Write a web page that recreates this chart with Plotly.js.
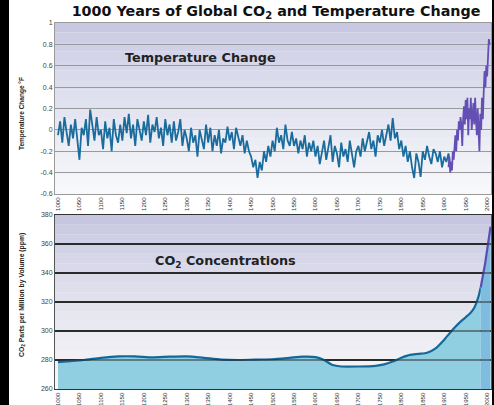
<!DOCTYPE html>
<html>
<head>
<meta charset="utf-8">
<script src="https://cdn.plot.ly/plotly-3.0.1.min.js"></script>
<style>
html,body{margin:0;padding:0;background:#fff;}
#wrap{position:relative;width:494px;height:405px;overflow:hidden;background:#fff;}
#lstrip{position:absolute;left:0;top:0;width:9px;height:405px;background:#000;}
#rstrip{position:absolute;left:492px;top:0;width:2px;height:405px;background:#000;}
#chart{position:absolute;left:9px;top:0;width:483px;height:405px;}
</style>
</head>
<body>
<div id="wrap"><div id="chart"></div><div id="lstrip"></div><div id="rstrip"></div></div>
<script>
// ---------- DATA ----------
const yearTicks = [1000,1050,1100,1150,1200,1250,1300,1350,1400,1450,1500,1550,1600,1650,1700,1750,1800,1850,1900,1950,2000];
const tempTickVals = [1,0.8,0.6,0.4,0.2,0,-0.2,-0.4,-0.6];
const tempTickText = ["1","0.8","0.6","0.4","0.2","0","-0.2","-0.4","-0.6"];
const co2TickVals = [380,360,340,320,300,280,260];

// Reconstructed temperature (blue), every 5 years from 1000
const reconStart = 1000, reconStep = 5;
const reconTemp = [
 -0.05,0.08,-0.12,0.12,-0.02,-0.15,0.05,-0.08,0.10,-0.10,
 -0.28,0.02,-0.05,0.10,-0.15,0.19,0.05,-0.10,0.12,-0.05,
 0.00,-0.18,0.08,-0.08,0.02,-0.20,0.10,-0.05,-0.12,0.05,
 -0.10,0.12,-0.03,0.15,-0.08,0.05,-0.15,0.10,0.00,-0.10,
 0.08,-0.05,0.14,-0.12,0.05,-0.02,0.12,-0.08,0.02,-0.15,
 0.10,-0.05,0.05,-0.12,0.08,-0.10,-0.02,0.10,-0.15,0.00,
 -0.08,-0.20,0.02,-0.12,-0.05,-0.25,0.00,-0.10,-0.18,0.05,
 -0.12,0.02,-0.20,-0.05,-0.15,0.00,-0.22,-0.08,-0.12,0.03,
 -0.10,-0.02,-0.18,0.02,-0.08,-0.15,-0.05,-0.22,-0.10,-0.20,
 -0.25,-0.35,-0.28,-0.45,-0.30,-0.38,-0.20,-0.30,-0.15,-0.25,
 -0.10,-0.20,0.02,-0.12,-0.05,-0.18,0.05,-0.10,-0.15,-0.02,
 -0.15,-0.08,-0.22,-0.10,-0.18,-0.05,-0.25,-0.12,-0.20,-0.10,
 -0.25,-0.15,-0.32,-0.20,-0.10,-0.28,-0.18,-0.05,-0.30,-0.15,
 -0.22,-0.35,-0.12,-0.25,-0.18,-0.30,-0.10,-0.22,-0.35,-0.20,
 -0.15,-0.25,-0.08,-0.20,-0.12,-0.02,-0.18,-0.10,-0.25,-0.05,
 -0.12,0.00,-0.15,-0.05,0.05,-0.10,0.11,-0.08,-0.02,-0.18,
 -0.10,-0.25,-0.15,-0.30,-0.20,-0.35,-0.45,-0.22,-0.30,-0.44,
 -0.20,-0.28,-0.15,-0.25,-0.32,-0.18,-0.22,-0.30,-0.20,-0.35,
 -0.25,-0.30,-0.22,-0.38
];

// Instrumental temperature (purple), every 2 years from 1910
const instrStart = 1910, instrStep = 2;
const instrTemp = [
 -0.35,-0.25,-0.40,-0.30,-0.38,-0.20,-0.28,-0.15,-0.05,-0.20,
 0.00,-0.10,0.08,0.00,0.12,0.05,-0.15,0.10,0.22,0.05,
 0.28,0.10,0.30,-0.05,0.20,0.10,0.30,0.00,0.15,0.25,
 0.05,0.30,0.10,-0.05,0.20,0.05,-0.20,0.15,0.00,0.30,
 0.10,0.35,0.55,0.40,0.60,0.50,0.70,0.85,0.80
];

// CO2 concentration (ppm)
const co2Years = [1000,1020,1060,1100,1140,1180,1220,1260,1300,1340,1380,1420,1460,1500,1540,1570,1600,1620,1640,1660,1700,1740,1760,1780,1800,1820,1840,1860,1880,1900,1920,1940,1960,1970,1980,1985];
const co2Vals  = [278.5,279,280,281.5,282.5,282.5,281.8,282.3,282.5,281.5,280.3,280,280.3,280.5,281.5,282.3,282,280,276.5,275.5,275.5,276,277,279,281.5,283.5,284.2,285,288,294,301,307,312,316,324,330];
const co2RecentYears = [1985,1990,1995,2000,2005,2008];
const co2RecentVals  = [330,337,346,356,366,372];

// ---------- BUILD ----------
function seq(start, step, n){ const a=[]; for(let i=0;i<n;i++) a.push(start+i*step); return a; }
const reconYears = seq(reconStart, reconStep, reconTemp.length);
const instrYears = seq(instrStart, instrStep, instrTemp.length);

const traces = [
  {x: co2Years, y: co2Vals, xaxis:'x2', yaxis:'y2', type:'scatter', mode:'lines',
   fill:'tozeroy', fillcolor:'#8fcfe1', line:{color:'#16679a', width:2.2, shape:'spline', smoothing:0.6}, hoverinfo:'skip'},
  {x: co2RecentYears, y: co2RecentVals, xaxis:'x2', yaxis:'y2', type:'scatter', mode:'lines',
   fill:'tozeroy', fillcolor:'#7fbde0', line:{color:'#5a4db3', width:2.2}, hoverinfo:'skip'},
  {x: reconYears, y: reconTemp, xaxis:'x', yaxis:'y', type:'scatter', mode:'lines',
   line:{color:'#1b6c9c', width:1.8}, hoverinfo:'skip'},
  {x: instrYears, y: instrTemp, xaxis:'x', yaxis:'y', type:'scatter', mode:'lines',
   line:{color:'#6450b4', width:1.8}, hoverinfo:'skip'}
];

// gradient backgrounds (style only)
function lerp(a,b,t){ return Math.round(a+(b-a)*t); }
function grad(xref, yref, top, bottom, n){
  const s=[];
  for(let i=0;i<n;i++){
    const t=Math.pow(i/(n-1),0.8);
    const c='rgb('+lerp(top[0],bottom[0],t)+','+lerp(top[1],bottom[1],t)+','+lerp(top[2],bottom[2],t)+')';
    s.push({type:'rect', xref:xref, yref:yref, x0:0, x1:1, y0:1-(i+1)/n, y1:1-i/n,
            fillcolor:c, line:{width:0}, layer:'below'});
  }
  return s;
}
let shapes = grad('x domain','y domain',[200,200,226],[246,248,250],18)
  .concat(grad('x2 domain','y2 domain',[198,198,225],[248,248,248],18));
// CO2 grid lines drawn over the filled area, at the tick values
co2TickVals.filter(v => v > 260 && v < 380).forEach(v => {
  shapes.push({type:'line', xref:'x2 domain', yref:'y2', x0:0, x1:1, y0:v, y1:v,
               line:{color:'#2a2a2a', width:1.2}, layer:'above'});
});

const tickFont = {family:'Liberation Sans, Arial, sans-serif', size:7, color:'#444'};
const xCommon = {range:[993,2009], tickvals:yearTicks, ticktext:yearTicks.map(String), tickangle:-90,
  tickfont:{family:'Liberation Sans Narrow, Liberation Sans, sans-serif', size:6.1, color:'#333'},
  ticklabelstandoff:0,
  showgrid:false, zeroline:false, showline:true, mirror:true, ticks:'', fixedrange:true};

const layout = {
  width:483, height:405,
  margin:{l:46, r:1, t:23, b:16},
  paper_bgcolor:'#ffffff', plot_bgcolor:'#f2f4f8',
  showlegend:false,
  title:{text:'1000 Years of Global CO<sub>2</sub> and Temperature Change',
         font:{family:'DejaVu Sans, sans-serif', size:14.3, color:'#111', weight:'bold'},
         xref:'paper', x:0.507, xanchor:'center', yref:'container', y:0.972, yanchor:'middle'},
  xaxis: Object.assign({}, xCommon, {domain:[0,1], anchor:'y', linecolor:'#9a9a9a', linewidth:1}),
  yaxis: {domain:[0.5328,1], anchor:'x', range:[-0.6,1], tickvals:tempTickVals, ticktext:tempTickText,
          tickfont:tickFont, showgrid:true, gridcolor:'#9a9a9a', gridwidth:1.2, zeroline:false,
          showline:true, mirror:true, linecolor:'#9a9a9a', linewidth:1, ticks:'', fixedrange:true},
  xaxis2: Object.assign({}, xCommon, {domain:[0,1], anchor:'y2', linecolor:'#333', linewidth:1.2}),
  yaxis2: {domain:[0,0.4754], anchor:'x2', range:[260,380], tickvals:co2TickVals, ticktext:co2TickVals.map(String),
          tickfont:tickFont, showgrid:true, gridcolor:'#2a2a2a', gridwidth:1.2, zeroline:false,
          showline:true, mirror:true, linecolor:'#555', linewidth:1, ticks:'', fixedrange:true},
  shapes: shapes,
  annotations:[
    {text:'<b>Temperature Change</b>', xref:'x', yref:'y', x:1331, y:0.68, showarrow:false,
     xanchor:'center', yanchor:'middle',
     font:{family:'DejaVu Sans, sans-serif', size:12.8, color:'#222'}},
    {text:'<b>CO<sub>2</sub> Concentrations</b>', xref:'x2', yref:'y2', x:1390, y:348, showarrow:false,
     xanchor:'center', yanchor:'middle',
     font:{family:'DejaVu Sans, sans-serif', size:12.8, color:'#222'}},
    {text:'<b>Temperature Change °F</b>', xref:'paper', yref:'paper', x:-0.0757, y:0.754, textangle:-90,
     xanchor:'center', yanchor:'middle',
     showarrow:false, font:{family:'Liberation Sans Narrow, Liberation Sans, sans-serif', size:6.5, color:'#222'}},
    {text:'<b>CO<sub>2</sub> Parts per Million by Volume (ppm)</b>', xref:'paper', yref:'paper', x:-0.0757, y:0.257, textangle:-90,
     xanchor:'center', yanchor:'middle',
     showarrow:false, font:{family:'Liberation Sans Narrow, Liberation Sans, sans-serif', size:6.8, color:'#222'}}
  ]
};

Plotly.newPlot('chart', traces, layout, {displayModeBar:false, staticPlot:true});
</script>
</body>
</html>
